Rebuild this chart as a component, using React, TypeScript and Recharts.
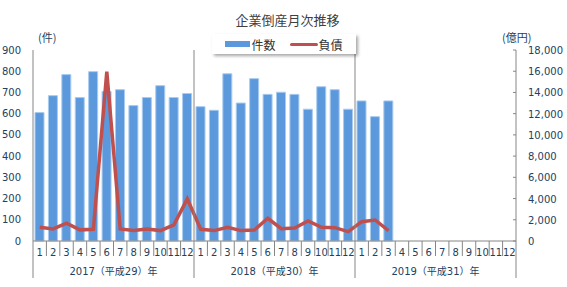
import { ComposedChart, Bar, Line, XAxis, YAxis, Legend } from 'recharts'

const months = [1, 2, 3, 4, 5, 6, 7, 8, 9, 10, 11, 12]
const years = ['2017（平成29）年', '2018（平成30）年', '2019（平成31）年']

// 件数 (left axis)
const counts2017 = [605, 685, 784, 676, 798, 704, 713, 638, 676, 732, 676, 695]
const counts2018 = [633, 616, 788, 650, 765, 691, 701, 691, 621, 727, 713, 621]
const counts2019 = [660, 586, 660]

// 負債 億円 (right axis)
const debt2017 = [1300, 1140, 1680, 1050, 1110, 15956, 1140, 980, 1140, 980, 1520, 3970]
const debt2018 = [1100, 980, 1290, 980, 1040, 2140, 1160, 1230, 1890, 1290, 1260, 880]
const debt2019 = [1820, 1980, 980]

const leftTicks = [0, 100, 200, 300, 400, 500, 600, 700, 800, 900]
const rightTicks = [0, 2000, 4000, 6000, 8000, 10000, 12000, 14000, 16000, 18000]

const countsByYear = [counts2017, counts2018, counts2019]
const debtByYear = [debt2017, debt2018, debt2019]

const data = years.flatMap((yr, yi) =>
  months.map((m, mi) => ({
    key: `${yi}-${m}`,
    month: m,
    year: yr,
    count: countsByYear[yi][mi],
    debt: debtByYear[yi][mi],
  }))
)

const W = 567
const H = 287
const LEFT_W = 33
const RIGHT_W = 51
const TOP = 50
const X_H = 40
const BOTTOM = 6
const PLOT_H = H - TOP - BOTTOM - X_H
const BAND = (W - LEFT_W - RIGHT_W) / data.length

const axisColor = '#868686'
const textColor = '#243F60'
const numFont = '"DejaVu Sans", "Noto Sans CJK JP", sans-serif'
const jpFont = '"Noto Sans CJK JP", sans-serif'

function MonthTick(props: any) {
  const { x, y, payload } = props
  const i = props.index ?? payload.index
  const row = data[i]
  const inYear = i % months.length
  const lx = x - BAND / 2
  return (
    <g>
      <text x={x} y={y + 15} textAnchor="middle" fill={textColor} fontSize={10} fontFamily={numFont}>
        {row.month}
      </text>
      {inYear === 0 ? (
        <line x1={lx} x2={lx} y1={i === 0 ? y : y - PLOT_H} y2={y + 37} stroke={axisColor} />
      ) : (
        <line x1={lx} x2={lx} y1={y} y2={y + 15} stroke={axisColor} />
      )}
      {i === data.length - 1 && (
        <line x1={x + BAND / 2} x2={x + BAND / 2} y1={y} y2={y + 37} stroke={axisColor} />
      )}
      {inYear === 6 && (
        <text x={lx} y={y + 34} textAnchor="middle" fill={textColor} fontSize={10} fontFamily={numFont}>
          {row.year}
        </text>
      )}
    </g>
  )
}

function RightTick(props: any) {
  const { x, y, payload } = props
  return (
    <g>
      <line x1={x - 15} x2={x - 12} y1={y} y2={y} stroke={axisColor} />
      <text x={x} y={y} dy={4} textAnchor="start" fill={textColor} fontSize={10} fontFamily={numFont}>
        {Number(payload.value).toLocaleString('en-US')}
      </text>
    </g>
  )
}

function LegendBox(props: any) {
  const items = props.payload || []
  return (
    <div
      style={{
        display: 'flex',
        alignItems: 'center',
        justifyContent: 'center',
        height: 20,
        background: '#fff',
        boxShadow: '2px 2px 3px rgba(0,0,0,0.35)',
        fontFamily: jpFont,
        fontSize: 12,
        color: '#333',
      }}
    >
      {items.map((it: any, idx: number) => (
        <div key={idx} style={{ display: 'flex', alignItems: 'center', marginRight: idx === 0 ? 14 : 0 }}>
          <span
            style={{
              display: 'inline-block',
              width: it.type === 'line' ? 28 : 25,
              height: it.type === 'line' ? 3 : 6,
              borderRadius: it.type === 'line' ? 2 : 0,
              background: it.color,
            }}
          />
          <span style={{ marginLeft: 1 }}>{it.value}</span>
        </div>
      ))}
    </div>
  )
}

export default function App() {
  return (
    <div style={{ position: 'absolute', left: 0, top: 0, width: W, height: H, background: '#fff' }}>
      <div
        style={{
          position: 'absolute',
          left: 0,
          width: W,
          top: 11,
          textAlign: 'center',
          fontFamily: jpFont,
          fontSize: 13,
          color: '#404040',
          lineHeight: '18px',
          paddingLeft: 4,
        }}
      >
        企業倒産月次推移
      </div>
      <div style={{ position: 'absolute', left: 38, top: 29, fontFamily: jpFont, fontSize: 11, color: textColor }}>
        (件)
      </div>
      <div style={{ position: 'absolute', left: 502, top: 29, fontFamily: jpFont, fontSize: 11, color: textColor }}>
        (億円)
      </div>
      <ComposedChart width={W} height={H} data={data} margin={{ top: TOP, right: 0, bottom: BOTTOM, left: 0 }}>
        <XAxis
          dataKey="key"
          interval={0}
          height={X_H}
          tickLine={false}
          tickSize={0}
          tickMargin={0}
          axisLine={{ stroke: axisColor }}
          tick={<MonthTick />}
        />
        <YAxis
          yAxisId="left"
          width={LEFT_W}
          domain={[0, 900]}
          ticks={leftTicks}
          interval={0}
          tickLine={false}
          tickSize={0}
          tickMargin={12}
          axisLine={{ stroke: axisColor }}
          tick={{ fill: textColor, fontSize: 10, fontFamily: numFont }}
        />
        <YAxis
          yAxisId="right"
          orientation="right"
          width={RIGHT_W}
          domain={[0, 18000]}
          ticks={rightTicks}
          interval={0}
          tickLine={false}
          tickSize={0}
          tickMargin={12}
          axisLine={{ stroke: axisColor }}
          tick={<RightTick />}
        />
        <Legend
          layout="horizontal"
          align="center"
          verticalAlign="middle"
          wrapperStyle={{ left: 212, top: 34, width: 144, height: 20 }}
          content={<LegendBox />}
        />
        <Bar
          yAxisId="left"
          dataKey="count"
          name="件数"
          fill="#5B98DC"
          stroke="#A9CBF0"
          strokeWidth={1}
          barSize={9}
          legendType="rect"
          isAnimationActive={false}
        />
        <Line
          yAxisId="right"
          dataKey="debt"
          name="負債"
          type="linear"
          stroke="#C0504D"
          strokeWidth={3.5}
          dot={false}
          activeDot={false}
          legendType="line"
          isAnimationActive={false}
        />
      </ComposedChart>
    </div>
  )
}
